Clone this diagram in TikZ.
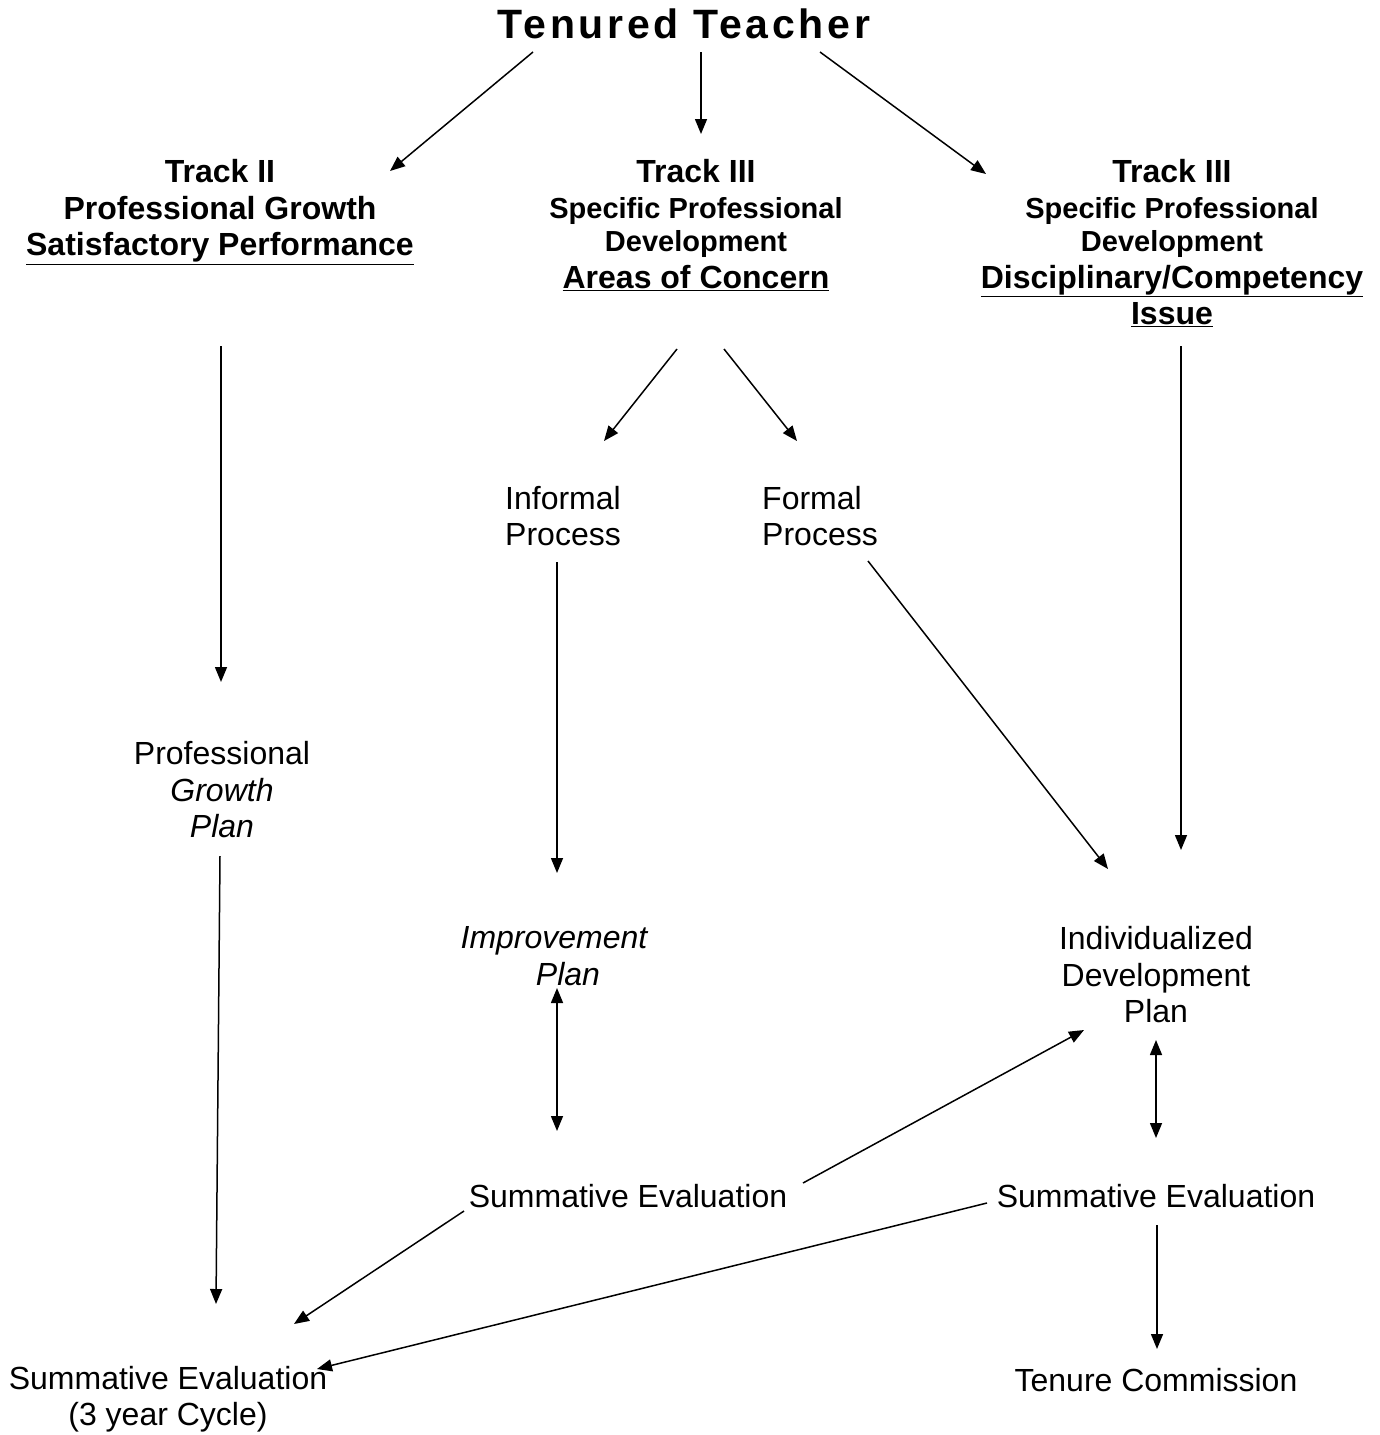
\documentclass[tikz,border=0pt]{standalone}
\usepackage{fontspec}
\setmainfont{Liberation Sans}
\usetikzlibrary{arrows.meta}
\newcommand{\fN}{\fontsize{32}{36.5}\selectfont}
\newcommand{\fS}{\fontsize{29}{33}\selectfont}
\tikzset{
  lbl/.style={inner sep=0pt, align=center, font=\fN},
  arr/.style={line width=1.5pt, -{Triangle[length=15pt,width=12pt]}},
  darr/.style={line width=1.5pt, {Triangle[length=15pt,width=12pt]}-{Triangle[length=15pt,width=12pt]}}
}
\begin{document}
\begin{tikzpicture}[x=1pt,y=-1pt]
\useasboundingbox (0,0) rectangle (1380,1435);
% nodes
\node[lbl, font=\fontsize{41}{46}\selectfont\bfseries\addfontfeature{LetterSpace=9}] (title) at (684,24) {Tenured Teacher};
\node[lbl, font=\fN\bfseries] (t2) at (220,212) {Track II\\Professional Growth\\\underline{Satisfactory Performance}};
\node[lbl, font=\fN\bfseries] (t3m) at (696,225) {Track III\\\fS Specific Professional\\[-3.5pt]\fS Development\\\fN\underline{Areas of Concern}};
\node[lbl, font=\fN\bfseries] (t3r) at (1172,243) {Track III\\\fS Specific Professional\\[-3.5pt]\fS Development\\\fN\underline{Disciplinary/Competency}\\\fN\underline{Issue}};
\node[lbl] (inf) at (563,516) {Informal\\Process};
\node[lbl, align=left] (form) at (820,516) {Formal\\Process};
\node[lbl] (pgp) at (222,790) {Professional\\\itshape Growth\\\itshape Plan};
\node[lbl, font=\fN\itshape] (imp) at (554,956) {Improvement\\\hspace*{28pt}Plan};
\node[lbl] (idp) at (1156,975) {Individualized\\Development\\Plan};
\node[lbl] (sem) at (628,1196) {Summative Evaluation};
\node[lbl] (ser) at (1156,1196) {Summative Evaluation};
\node[lbl] (se3) at (168,1399) {Summative Evaluation\\(3 year Cycle)};
\node[lbl] (ten) at (1156,1380) {Tenure Commission};
% connector end points
\coordinate (a1s) at (533,52);  \coordinate (a1e) at (390,171);
\coordinate (a2s) at (701,52);  \coordinate (a2e) at (701,134);
\coordinate (a3s) at (820,52);  \coordinate (a3e) at (986,174);
\coordinate (a4s) at (221,346); \coordinate (a4e) at (221,682);
\coordinate (a5s) at (677,349); \coordinate (a5e) at (604,441);
\coordinate (a6s) at (724,349); \coordinate (a6e) at (797,441);
\coordinate (a7s) at (1181,346); \coordinate (a7e) at (1181,850);
\coordinate (a8s) at (557,562); \coordinate (a8e) at (557,873);
\coordinate (a9s) at (868,561); \coordinate (a9e) at (1108,869);
\coordinate (a10s) at (220,856); \coordinate (a10e) at (216,1304);
\coordinate (a11s) at (557,988); \coordinate (a11e) at (557,1131);
\coordinate (a12s) at (1156,1040); \coordinate (a12e) at (1156,1138);
\coordinate (a13s) at (803,1183); \coordinate (a13e) at (1084,1030);
\coordinate (a14s) at (464,1211); \coordinate (a14e) at (294,1324);
\coordinate (a15s) at (987,1203); \coordinate (a15e) at (317,1369);
\coordinate (a16s) at (1157,1225); \coordinate (a16e) at (1157,1349);
% connectors
\draw[arr] (a1s) -- (a1e);
\draw[arr] (a2s) -- (a2e);
\draw[arr] (a3s) -- (a3e);
\draw[arr] (a4s) -- (a4e);
\draw[arr] (a5s) -- (a5e);
\draw[arr] (a6s) -- (a6e);
\draw[arr] (a7s) -- (a7e);
\draw[arr] (a8s) -- (a8e);
\draw[arr] (a9s) -- (a9e);
\draw[arr] (a10s) -- (a10e);
\draw[darr] (a11s) -- (a11e);
\draw[darr] (a12s) -- (a12e);
\draw[arr] (a13s) -- (a13e);
\draw[arr] (a14s) -- (a14e);
\draw[arr] (a15s) -- (a15e);
\draw[arr] (a16s) -- (a16e);
\end{tikzpicture}
\end{document}
